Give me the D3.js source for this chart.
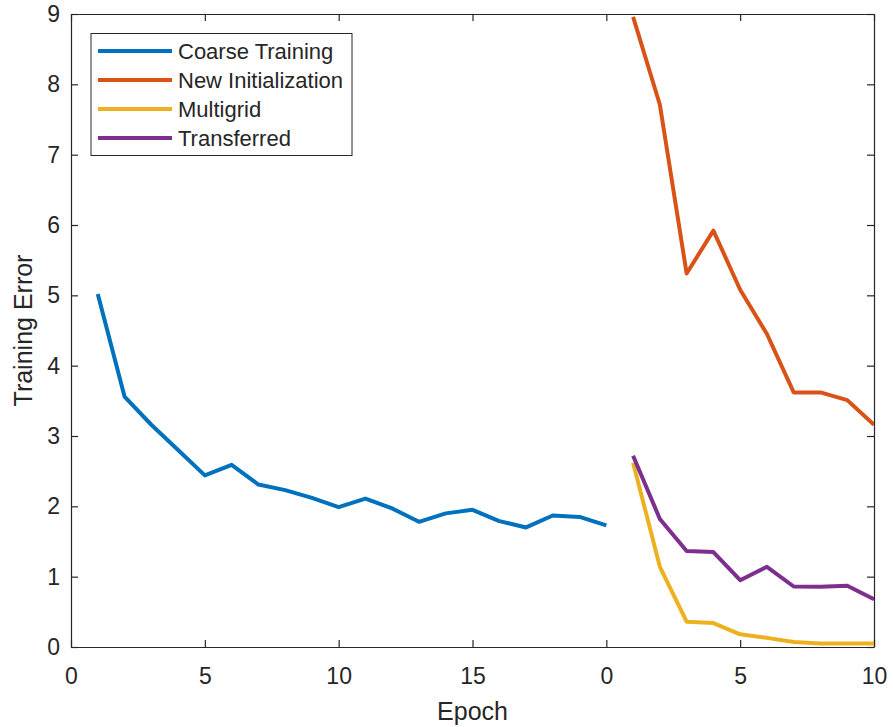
<!DOCTYPE html>
<html>
<head>
<meta charset="utf-8">
<script src="https://cdn.jsdelivr.net/npm/d3@7"></script>
<style>
  body { margin: 0; background: #fff; }
  text { font-family: "Liberation Sans", Arial, sans-serif; fill: #262626; }
</style>
</head>
<body>
<script>
// data
const coarseEpochs = d3.range(1, 21)
const coarseErr = [5.02, 3.56, 3.16, 2.80, 2.44, 2.59, 2.31, 2.23, 2.12, 1.99,
                   2.11, 1.97, 1.78, 1.90, 1.95, 1.79, 1.70, 1.87, 1.85, 1.73]
const fineEpochs = d3.range(21, 31)
const newInitErr = [8.96, 7.71, 5.31, 5.92, 5.08, 4.45, 3.62, 3.62, 3.51, 3.16]
const multigridErr = [2.62, 1.14, 0.36, 0.34, 0.18, 0.13, 0.07, 0.05, 0.05, 0.05]
const transferErr = [2.72, 1.82, 1.365, 1.35, 0.95, 1.14, 0.86, 0.855, 0.87, 0.68]
const xTicks = [0, 5, 10, 15, 20, 25, 30]
const xTickLabels = ["0", "5", "10", "15", "0", "5", "10"]
const yTicks = d3.range(0, 10)

const names = ["Coarse Training", "New Initialization", "Multigrid", "Transferred"]
const colors = ["#0072BD", "#D95319", "#EDB120", "#7E2F8E"]

var box = { width: 893, height: 727 }
var m = { left: 71, right: 19, top: 14, bottom: 80 }

let svg = d3.select("body").append("svg")
    .attr("width", box.width)
    .attr("height", box.height)

let x = d3.scaleLinear().domain([0, 30]).range([m.left, box.width - m.right])
let y = d3.scaleLinear().domain([0, 9]).range([box.height - m.bottom, m.top])

svg.append("defs").append("clipPath").attr("id", "clip")
    .append("rect")
    .attr("x", x(0)).attr("y", y(9))
    .attr("width", x(30) - x(0)).attr("height", y(0) - y(9))

const tickLen = 7
const axisColor = "#262626"

// bottom axis
svg.append("g")
    .attr("transform", `translate(0,${y(0)})`)
    .call(d3.axisBottom(x).tickValues(xTicks)
        .tickFormat((d, i) => xTickLabels[i])
        .tickSizeInner(-tickLen).tickSizeOuter(0).tickPadding(21))
// left axis
svg.append("g")
    .attr("transform", `translate(${x(0)},0)`)
    .call(d3.axisLeft(y).tickValues(yTicks)
        .tickSizeInner(-tickLen).tickSizeOuter(0).tickPadding(11))
// top + right axes, ticks only
svg.append("g")
    .attr("transform", `translate(0,${y(9)})`)
    .call(d3.axisTop(x).tickValues(xTicks).tickFormat("")
        .tickSizeInner(-tickLen).tickSizeOuter(0))
svg.append("g")
    .attr("transform", `translate(${x(30)},0)`)
    .call(d3.axisRight(y).tickValues(yTicks).tickFormat("")
        .tickSizeInner(-tickLen).tickSizeOuter(0))

svg.selectAll(".domain, .tick line")
    .attr("stroke", axisColor)
    .attr("stroke-width", 1.2)
svg.selectAll(".tick text")
    .style("font-size", "23px")
    .attr("fill", axisColor)

// axis labels
svg.append("text")
    .attr("x", (x(0) + x(30)) / 2)
    .attr("y", 720)
    .attr("text-anchor", "middle")
    .style("font-size", "25px")
    .text("Epoch")

svg.append("text")
    .attr("transform", `translate(32,${(y(0) + y(9)) / 2}) rotate(-90)`)
    .attr("text-anchor", "middle")
    .style("font-size", "25px")
    .text("Training Error")

// lines
let line = d3.line().x(d => x(d[0])).y(d => y(d[1]))
let series = [
    d3.zip(coarseEpochs, coarseErr),
    d3.zip(fineEpochs, newInitErr),
    d3.zip(fineEpochs, multigridErr),
    d3.zip(fineEpochs, transferErr)
]

let plot = svg.append("g").attr("clip-path", "url(#clip)")
plot.selectAll("path")
    .data(series)
    .enter().append("path")
    .attr("d", line)
    .attr("fill", "none")
    .attr("stroke", (d, i) => colors[i])
    .attr("stroke-width", 4)
    .attr("stroke-linejoin", "round")

// legend
let legend = svg.append("g")
legend.append("rect")
    .attr("x", 91).attr("y", 33.5)
    .attr("width", 261).attr("height", 122)
    .attr("fill", "#fff")
    .attr("stroke", axisColor)
    .attr("stroke-width", 1)

let items = legend.selectAll(".item")
    .data(names)
    .enter().append("g")
    .attr("class", "item")
    .attr("transform", (d, i) => `translate(0,${51 + i * 29})`)

items.append("line")
    .attr("x1", 98).attr("x2", 172)
    .attr("stroke", (d, i) => colors[i])
    .attr("stroke-width", 4)

items.append("text")
    .attr("x", 178)
    .attr("dy", "0.35em")
    .style("font-size", "22px")
    .attr("fill", "#000")
    .text(d => d)
</script>
</body>
</html>
